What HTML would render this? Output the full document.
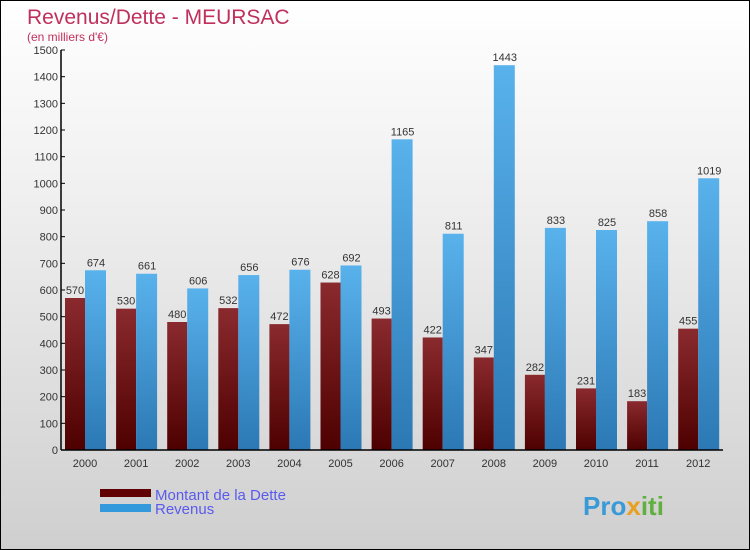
<!DOCTYPE html>
<html><head><meta charset="utf-8"><style>
body{margin:0}
#c{position:relative;width:748px;height:548px;border:1px solid #000;background:linear-gradient(#fff,#f2f2f2 30%,#d9d9d9 80%,#cfcfcf);font-family:"Liberation Sans",sans-serif;overflow:hidden}
</style></head><body>
<div id="c">
<svg width="748" height="548" id="svg" style="position:absolute;left:0;top:0">
<defs>
<linearGradient id="gd" x1="0" y1="0" x2="0" y2="1"><stop offset="0" stop-color="#8a2a2e"/><stop offset="1" stop-color="#4e0000"/></linearGradient>
<linearGradient id="gr" x1="0" y1="0" x2="0" y2="1"><stop offset="0" stop-color="#59b2ec"/><stop offset="1" stop-color="#2b78b4"/></linearGradient>
</defs>
<text x="26" y="23" font-size="21" fill="#c0305e">Revenus/Dette - MEURSAC</text>
<text x="26" y="40" font-size="12" fill="#c0305e">(en milliers d'€)</text>
<g id="g"></g>
<rect x="99" y="488" width="51" height="8" fill="#600000"/>
<rect x="99" y="503" width="51" height="8" fill="#3399dd"/>
<text x="154" y="499" font-size="15" fill="#5a5aee">Montant de la Dette</text>
<text x="154" y="513" font-size="15" fill="#5a5aee">Revenus</text>
<text x="582" y="514" font-size="26" font-weight="bold" fill="#3a9ad8">Pro<tspan fill="#e8a020">x</tspan><tspan fill="#60b040">iti</tspan></text>
</svg>
</div>
<script>
const years=["2000","2001","2002","2003","2004","2005","2006","2007","2008","2009","2010","2011","2012"];
const dette=[570,530,480,532,472,628,493,422,347,282,231,183,455];
const revenus=[674,661,606,656,676,692,1165,811,1443,833,825,858,1019];
const yTicks=[0,100,200,300,400,500,600,700,800,900,1000,1100,1200,1300,1400,1500];
const NS="http://www.w3.org/2000/svg";
const g=document.getElementById('g');
const x0=60,yb=449,step=51.1,k=400/1500;
const Y=v=>yb-v*k;
function el(t,a,txt){const e=document.createElementNS(NS,t);for(const n in a)e.setAttribute(n,a[n]);if(txt!=null)e.textContent=txt;g.appendChild(e);return e;}
years.forEach((yr,i)=>{
 const cx=x0+4+i*step;
 let r=el('rect',{x:cx,y:Y(dette[i]),width:20,height:dette[i]*k,fill:'url(#gd)'});
 
 
 let r2=el('rect',{x:cx+20,y:Y(revenus[i]),width:21,height:revenus[i]*k,fill:'url(#gr)'});
 
 
 let t=el('text',{x:cx+10,y:Y(dette[i])-4,'font-size':11,'text-anchor':'middle',fill:'#333'},dette[i]);
 
 
 let t2=el('text',{x:cx+31,y:Y(revenus[i])-4,'font-size':11,'text-anchor':'middle',fill:'#333'},revenus[i]);
 
 
 let xl=el('text',{x:cx+20,y:466,'font-size':11,'text-anchor':'middle',fill:'#333'},yr);
 
 
});
yTicks.forEach(v=>{
 el('line',{x1:x0,x2:x0+4,y1:Y(v),y2:Y(v),stroke:'#000'});
 let t=el('text',{x:x0-3,y:Y(v)+4,'font-size':11,'text-anchor':'end',fill:'#333'},v);
 
 
});
let ax=el('line',{x1:x0,x2:x0,y1:Y(1500),y2:yb,stroke:'#000','stroke-width':1.5});


let bx=el('line',{x1:x0,x2:722,y1:yb,y2:yb,stroke:'#000','stroke-width':1.5});


</script>
</body></html>
